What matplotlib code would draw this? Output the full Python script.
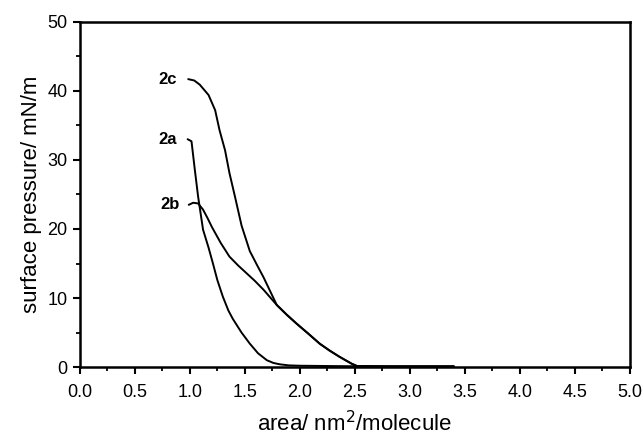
import matplotlib
matplotlib.use("Agg")
import matplotlib.pyplot as plt
from matplotlib.ticker import MultipleLocator

plt.rcParams["font.family"] = ["Liberation Sans", "DejaVu Sans"]

# isotherms: area (nm^2/molecule), pressure (mN/m)
area_2a = [0.98, 1.015, 1.045, 1.075, 1.12, 1.17, 1.21, 1.25, 1.30, 1.35, 1.39, 1.47, 1.545, 1.62, 1.70, 1.76, 1.82, 1.90, 2.00, 2.30, 2.70, 3.10, 3.40]
pres_2a = [33.0, 32.7, 28.6, 24.7, 19.9, 17.3, 15.0, 12.6, 10.2, 8.2, 7.0, 5.0, 3.4, 2.0, 1.0, 0.6, 0.4, 0.25, 0.2, 0.15, 0.1, 0.1, 0.1]

area_2b = [0.99, 1.03, 1.075, 1.12, 1.16, 1.20, 1.28, 1.36, 1.44, 1.515, 1.59, 1.67, 1.79, 1.88, 1.97, 2.08, 2.18, 2.27, 2.36, 2.47, 2.52, 2.80, 3.10, 3.40]
pres_2b = [23.5, 23.8, 23.7, 22.8, 21.6, 20.3, 18.0, 16.0, 14.7, 13.6, 12.5, 11.2, 9.0, 7.6, 6.3, 4.8, 3.4, 2.4, 1.5, 0.5, 0.15, 0.1, 0.1, 0.1]

area_2c = [0.985, 1.04, 1.09, 1.17, 1.23, 1.27, 1.32, 1.36, 1.41, 1.47, 1.545, 1.61, 1.67, 1.73, 1.79, 1.88, 1.97, 2.08, 2.18, 2.27, 2.36, 2.47, 2.52, 2.80, 3.10, 3.40]
pres_2c = [41.7, 41.5, 40.9, 39.4, 37.2, 34.3, 31.4, 28.1, 24.7, 20.5, 16.8, 14.8, 13.0, 11.0, 9.0, 7.6, 6.3, 4.8, 3.4, 2.4, 1.5, 0.5, 0.15, 0.1, 0.1, 0.1]

curve_labels = ["2a", "2b", "2c"]
label_x = [0.80, 0.82, 0.80]
label_y = [33.0, 23.5, 41.7]

fig = plt.figure(figsize=(6.44, 4.36), dpi=100)
ax = fig.add_axes([0.124, 0.158, 0.854, 0.792])

for xs, ys in [(area_2a, pres_2a), (area_2b, pres_2b), (area_2c, pres_2c)]:
    ax.plot(xs, ys, color="black", lw=1.4, solid_capstyle="round", solid_joinstyle="round")

for name, lx, ly in zip(curve_labels, label_x, label_y):
    ax.text(lx, ly, name, fontsize=12, fontweight="bold", ha="center", va="center")

ax.set_xlim(0, 5)
ax.set_ylim(0, 50)
ax.xaxis.set_major_locator(MultipleLocator(0.5))
ax.xaxis.set_minor_locator(MultipleLocator(0.25))
ax.yaxis.set_major_locator(MultipleLocator(10))
ax.yaxis.set_minor_locator(MultipleLocator(5))
ax.xaxis.set_major_formatter(plt.FuncFormatter(lambda v, p: f"{v:.1f}"))
ax.tick_params(which="major", direction="out", length=5, width=1.5, labelsize=13, pad=4)
ax.tick_params(axis="x", which="major", pad=7)
ax.tick_params(which="minor", direction="out", length=3, width=1.3)
for s in ax.spines.values():
    s.set_linewidth(1.8)

ax.set_xlabel("area/ nm$^2$/molecule", fontsize=16, labelpad=7)
ax.set_ylabel("surface pressure/ mN/m", fontsize=16, labelpad=4)

fig.savefig("out.png", dpi=100)
